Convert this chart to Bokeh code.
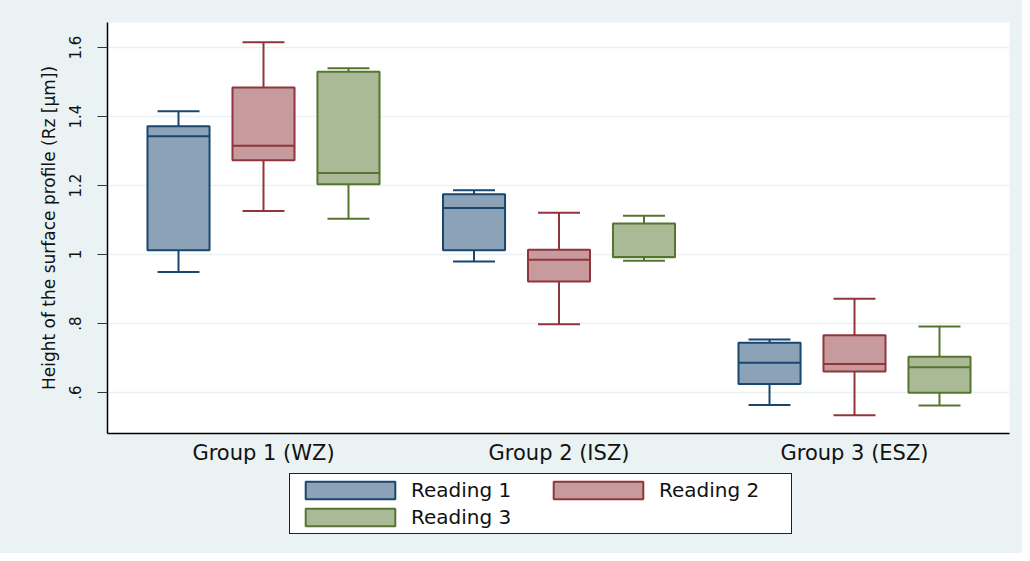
from bokeh.plotting import figure
from bokeh.layouts import column
from bokeh.models import ColumnDataSource, FixedTicker, Legend, LegendItem, Range1d
from bokeh.embed import file_html
from bokeh.resources import INLINE

# ---- data ----
groups = ["Group 1 (WZ)", "Group 2 (ISZ)", "Group 3 (ESZ)"]
readings = ["Reading 1", "Reading 2", "Reading 3"]

r1_low = [0.949, 0.980, 0.564]
r1_q1 = [1.012, 1.012, 0.625]
r1_med = [1.343, 1.135, 0.686]
r1_q3 = [1.372, 1.175, 0.744]
r1_high = [1.415, 1.186, 0.754]

r2_low = [1.126, 0.798, 0.534]
r2_q1 = [1.273, 0.922, 0.661]
r2_med = [1.315, 0.985, 0.683]
r2_q3 = [1.484, 1.014, 0.766]
r2_high = [1.615, 1.121, 0.872]

r3_low = [1.104, 0.982, 0.562]
r3_q1 = [1.204, 0.992, 0.599]
r3_med = [1.236, 0.993, 0.673]
r3_q3 = [1.530, 1.090, 0.704]
r3_high = [1.540, 1.112, 0.791]

y_ticks = [0.6, 0.8, 1.0, 1.2, 1.4, 1.6]
y_tick_labels = [".6", ".8", "1", "1.2", "1.4", "1.6"]

# ---- styles ----
line_colors = ["#1A476F", "#90353B", "#55752F"]
fill_colors = ["#8CA3B7", "#C79A9D", "#AABA97"]
offsets = [-0.2876, 0.0, 0.2876]
box_w = 0.21
cap_w = 0.142
BG = "#EAF2F3"
FONT = "DejaVu Sans"

W = 1022
H_MAIN = 470
H_LEG = 83

p = figure(width=W, height=H_MAIN, output_backend="svg", toolbar_location=None,
           x_range=Range1d(0.4721, 3.5245), y_range=Range1d(0.4812, 1.6725),
           min_border_left=107, min_border_right=13, min_border_top=22, min_border_bottom=37)
p.background_fill_color = "white"
p.border_fill_color = BG
p.outline_line_color = None

series = [
    (r1_low, r1_q1, r1_med, r1_q3, r1_high),
    (r2_low, r2_q1, r2_med, r2_q3, r2_high),
    (r3_low, r3_q1, r3_med, r3_q3, r3_high),
]

for k, (lo, q1, med, q3, hi) in enumerate(series):
    xs = [i + 1 + offsets[k] for i in range(len(groups))]
    src = ColumnDataSource(dict(
        x=xs,
        l=[x - box_w / 2 for x in xs], r=[x + box_w / 2 for x in xs],
        cl=[x - cap_w / 2 for x in xs], cr=[x + cap_w / 2 for x in xs],
        lo=lo, q1=q1, med=med, q3=q3, hi=hi,
    ))
    lc = line_colors[k]
    p.segment(x0="x", y0="q3", x1="x", y1="hi", source=src, line_color=lc, line_width=2)
    p.segment(x0="x", y0="lo", x1="x", y1="q1", source=src, line_color=lc, line_width=2)
    p.segment(x0="cl", y0="hi", x1="cr", y1="hi", source=src, line_color=lc, line_width=2)
    p.segment(x0="cl", y0="lo", x1="cr", y1="lo", source=src, line_color=lc, line_width=2)
    p.quad(left="l", right="r", bottom="q1", top="q3", source=src,
           fill_color=fill_colors[k], line_color=lc, line_width=2)
    p.segment(x0="l", y0="med", x1="r", y1="med", source=src, line_color=lc, line_width=2)

# ---- axes ----
p.xaxis.ticker = FixedTicker(ticks=[1, 2, 3])
p.xaxis.major_label_overrides = {i + 1: g for i, g in enumerate(groups)}
p.xaxis.major_tick_line_color = None
p.xaxis.minor_tick_line_color = None
p.xaxis.major_label_standoff = 1
p.xaxis.major_label_text_font = FONT
p.xaxis.major_label_text_font_size = "21px"
p.xaxis.major_label_text_color = "#111111"
p.xaxis.axis_line_color = "black"
p.xaxis.axis_line_width = 1.5

p.yaxis.ticker = FixedTicker(ticks=y_ticks)
p.yaxis.major_label_overrides = {t: s for t, s in zip(y_ticks, y_tick_labels)}
p.yaxis.major_label_orientation = "vertical"
p.yaxis.major_tick_out = 10
p.yaxis.major_tick_in = 0
p.yaxis.major_tick_line_color = "#333333"
p.yaxis.major_tick_line_width = 1.2
p.yaxis.minor_tick_line_color = None
p.yaxis.major_label_standoff = 16
p.yaxis.major_label_text_font = FONT
p.yaxis.major_label_text_font_size = "15px"
p.yaxis.major_label_text_color = "#111111"
p.yaxis.axis_line_color = "black"
p.yaxis.axis_line_width = 1.5
p.yaxis.axis_label = "Height of the surface profile (Rz [µm])"
p.yaxis.axis_label_text_font = FONT
p.yaxis.axis_label_text_font_size = "17px"
p.yaxis.axis_label_text_font_style = "normal"
p.yaxis.axis_label_text_color = "#111111"
p.yaxis.axis_label_standoff = 8

p.xgrid.grid_line_color = None
p.ygrid.grid_line_color = BG
p.ygrid.grid_line_width = 1.5

# ---- legend (separate strip below the plot) ----
pl = figure(width=W, height=H_LEG, output_backend="svg", toolbar_location=None,
            x_range=Range1d(0, 1), y_range=Range1d(0, 1),
            x_axis_type=None, y_axis_type=None,
            min_border=0, min_border_left=0, min_border_right=0,
            min_border_top=0, min_border_bottom=0)
pl.background_fill_color = BG
pl.border_fill_color = BG
pl.outline_line_color = None

# legend-only swatch renderers, kept outside the visible range of this strip
swatches = {}
for k, name in enumerate(readings):
    swatches[name] = pl.quad(left=[5], right=[6], bottom=[5], top=[6],
                             fill_color=fill_colors[k], line_color=line_colors[k], line_width=2)

# column-major fill with 2 columns -> order so rows read R1 R2 / R3
order = [readings[0], readings[2], readings[1]]
legend_items = [LegendItem(label=n, renderers=[swatches[n]]) for n in order]

legend = Legend(items=legend_items, ncols=2, location=(182, 19),
                glyph_width=112, glyph_height=22, label_standoff=5,
                label_width=128, spacing=3, padding=4, margin=0,
                label_text_font=FONT, label_text_font_size="20px",
                label_text_color="#111111",
                border_line_color="#222222", border_line_width=1.2, border_line_alpha=1.0,
                background_fill_color="white", background_fill_alpha=1.0)
pl.add_layout(legend, "center")

layout = column(p, pl, spacing=0, styles={"background-color": BG})
open("out.html", "w").write(file_html(layout, INLINE))
